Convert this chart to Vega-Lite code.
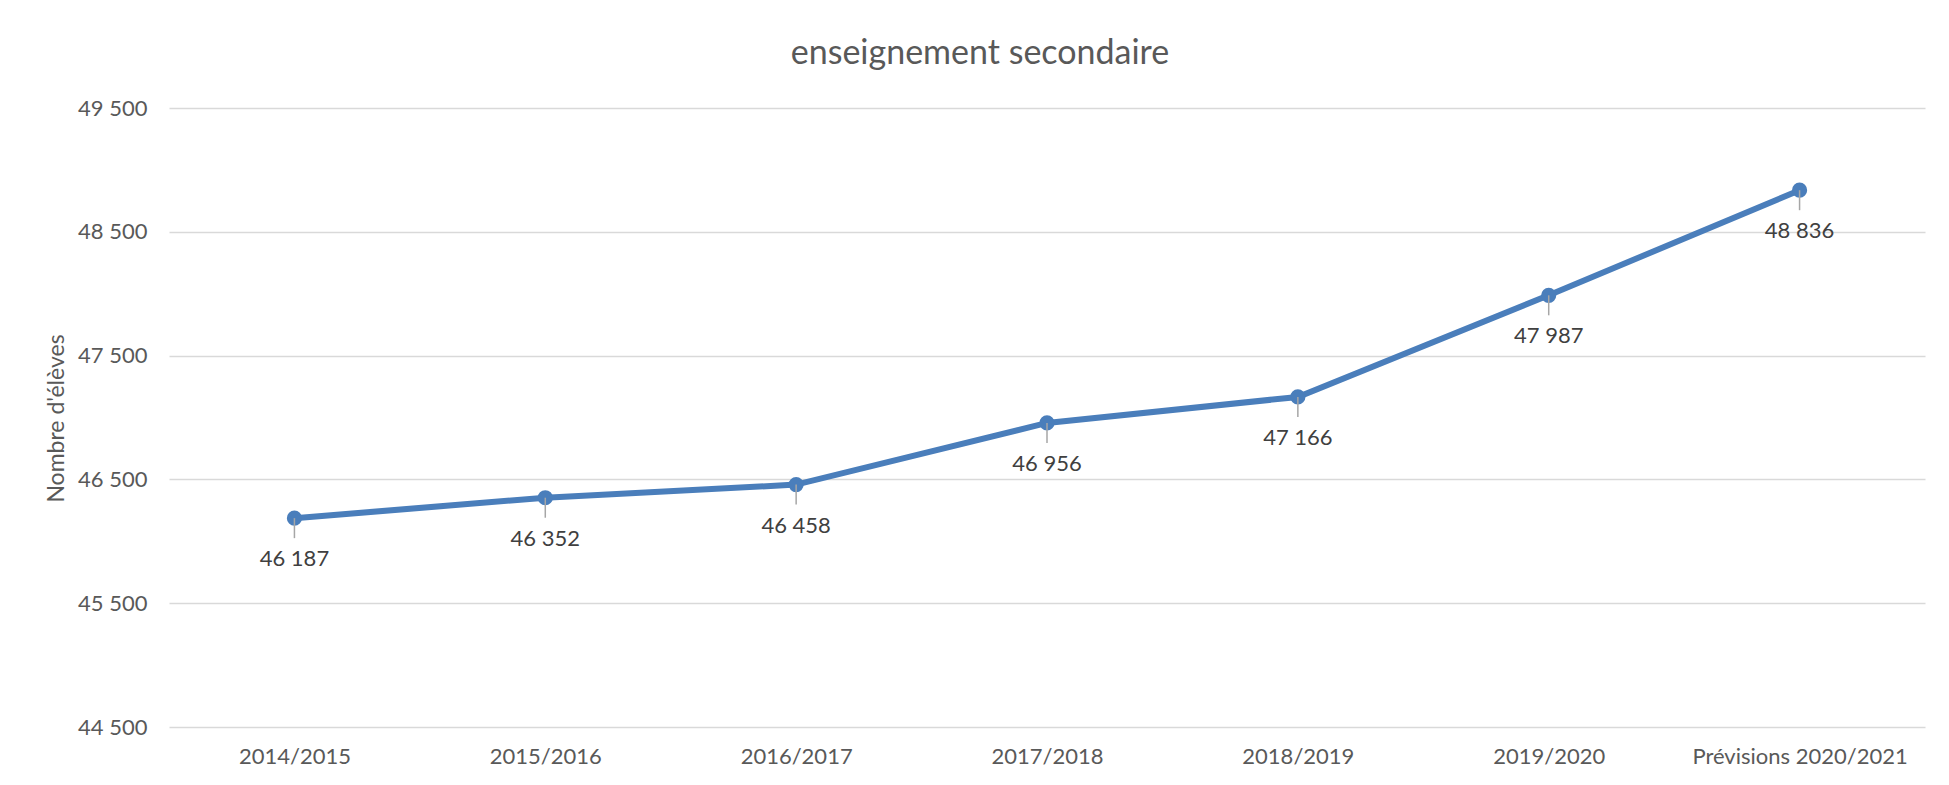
{
  "$schema": "https://vega.github.io/schema/vega-lite/v6.json",
  "width": 1756,
  "height": 619,
  "autosize": {"type": "none"},
  "padding": {"left": 169, "top": 108, "right": 24, "bottom": 58},
  "background": "white",
  "config": {
    "font": "Lato",
    "view": {"stroke": null},
    "locale": {"number": {"decimal": ",", "thousands": " ", "grouping": [3], "currency": ["", " €"]}}
  },
  "title": {
    "text": "enseignement secondaire",
    "anchor": "middle",
    "dx": -67,
    "offset": 26,
    "fontSize": 34,
    "fontWeight": "normal",
    "color": "#595959",
    "font": "Lato"
  },
  "data": {
    "values": [
      {"annee": "2014/2015", "eleves": 46187},
      {"annee": "2015/2016", "eleves": 46352},
      {"annee": "2016/2017", "eleves": 46458},
      {"annee": "2017/2018", "eleves": 46956},
      {"annee": "2018/2019", "eleves": 47166},
      {"annee": "2019/2020", "eleves": 47987},
      {"annee": "Prévisions 2020/2021", "eleves": 48836}
    ]
  },
  "encoding": {
    "x": {
      "field": "annee",
      "type": "nominal",
      "sort": null,
      "scale": {"type": "point", "padding": 0.5},
      "axis": {
        "title": null,
        "labelAngle": 0,
        "labelFontSize": 22,
        "labelColor": "#595959",
        "labelPadding": 19,
        "labelLimit": 0,
        "ticks": false,
        "domain": false,
        "grid": false
      }
    },
    "y": {
      "field": "eleves",
      "type": "quantitative",
      "scale": {"domain": [44500, 49500], "nice": false, "zero": false},
      "axis": {
        "title": "Nombre d'élèves",
        "titleFontSize": 23,
        "titleFontWeight": "normal",
        "titleColor": "#595959",
        "titleAngle": -90,
        "titleX": -113,
        "titleY": 310,
        "titleAlign": "center",
        "titleBaseline": "middle",
        "values": [44500, 45500, 46500, 47500, 48500, 49500],
        "format": ",d",
        "labelFontSize": 22,
        "labelColor": "#595959",
        "labelPadding": 22,
        "ticks": false,
        "domain": false,
        "gridColor": "#d9d9d9",
        "gridWidth": 1.5
      }
    }
  },
  "layer": [
    {"mark": {"type": "line", "color": "#4a7ebb", "strokeWidth": 6}},
    {"mark": {"type": "point", "filled": true, "opacity": 1, "color": "#4a7ebb", "size": 230}},
    {
      "mark": {"type": "rule", "color": "#a6a6a6", "strokeWidth": 1.5, "y2Offset": 20},
      "encoding": {"y2": {"field": "eleves"}}
    },
    {
      "mark": {"type": "text", "dy": 41, "fontSize": 22, "color": "#404040", "font": "Lato"},
      "encoding": {"text": {"field": "eleves", "type": "quantitative", "format": ",d"}}
    }
  ]
}
